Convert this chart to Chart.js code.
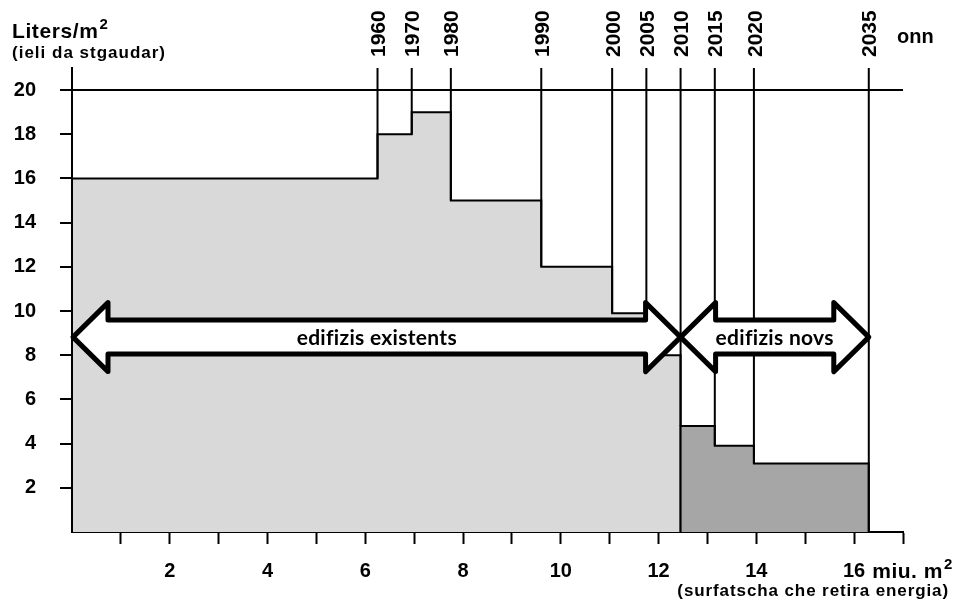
<!DOCTYPE html>
<html><head><meta charset="utf-8">
<script src="https://cdn.jsdelivr.net/npm/chart.js@4/dist/chart.umd.min.js"></script>
<style>html,body{margin:0;padding:0;background:#fff;overflow:hidden}</style>
</head><body>
<canvas id="c" width="956" height="601"></canvas>
<script>
// ---- data ----
const years = ['1960','1970','1980','1990','2000','2005','2010','2015','2020','2035'];
// cumulative heated floor area (miu. m2) reached at each year
const cumulativeArea = [6.25, 6.95, 7.75, 9.6, 11.05, 11.75, 12.45, 13.15, 13.95, 16.3];
// heating oil need (liters/m2) of the buildings of the period ending at each year
const litersPerM2 = [16, 18, 19, 15, 12, 9.9, 8, 4.8, 3.9, 3.1];
const existingPeriods = 7;          // periods up to 2010: edifizis existents
const yTickValues = [2,4,6,8,10,12,14,16,18,20];
const xTickValues = [1,2,3,4,5,6,7,8,9,10,11,12,13,14,15,16,17];
const xLabelledValues = [2,4,6,8,10,12,14,16];
const referenceLine = 20;
const arrowLabels = ['edifizis existents', 'edifizis novs'];

// ---- datasets built from the arrays ----
function stepArea(startX, from, to) {
  const pts = [{x: startX, y: 0}, {x: startX, y: litersPerM2[from]}];
  for (let i = from; i < to - 1; i++) pts.push({x: cumulativeArea[i], y: litersPerM2[i + 1]});
  pts.push({x: cumulativeArea[to - 1], y: 0});
  return pts;
}
const existingArea = stepArea(0, 0, existingPeriods);
const newArea = stepArea(cumulativeArea[existingPeriods - 1], existingPeriods, years.length);
const boundaryLines = [];
years.forEach((y, i) => {
  const next = i + 1 < litersPerM2.length ? litersPerM2[i + 1] : 0;
  boundaryLines.push({x: cumulativeArea[i], y: 21});
  boundaryLines.push({x: cumulativeArea[i], y: Math.min(litersPerM2[i], next)});
  boundaryLines.push({x: cumulativeArea[i], y: null});
});

const FONT = "'Liberation Sans', Arial, sans-serif";
Chart.defaults.font.family = FONT;
Chart.defaults.font.weight = 'bold';
Chart.defaults.color = '#000';

const textPlugin = {
  id: 'texts',
  afterDraw(chart) {
    const ctx = chart.ctx;
    ctx.save();
    ctx.fillStyle = '#000';
    ctx.textBaseline = 'alphabetic';
    ctx.textAlign = 'left';
    ctx.letterSpacing = '0.6px';
    ctx.font = 'bold 21px ' + FONT;
    ctx.fillText('Liters/m', 12, 38);
    let w = ctx.measureText('Liters/m').width;
    ctx.letterSpacing = '0px';
    ctx.font = 'bold 15px ' + FONT;
    ctx.fillText('2', 12 + w + 1, 29);
    ctx.letterSpacing = '1px';
    ctx.font = 'bold 17px ' + FONT;
    ctx.fillText('(ieli da stgaudar)', 12, 58);
    ctx.letterSpacing = '0px';
    ctx.font = 'bold 20px ' + FONT;
    ctx.fillText('onn', 897, 43);
    // unit after the last x label
    const xs = chart.scales.x;
    const px16 = xs.getPixelForValue(16);
    ctx.font = 'bold 20px ' + FONT;
    const w16 = ctx.measureText('16').width;
    const ux = px16 + w16 / 2 + 7;
    ctx.letterSpacing = '0.5px';
    ctx.font = 'bold 21px ' + FONT;
    ctx.fillText('miu. m', ux, 578);
    w = ctx.measureText('miu. m').width;
    ctx.letterSpacing = '0px';
    ctx.font = 'bold 15px ' + FONT;
    ctx.fillText('2', ux + w + 1, 569);
    ctx.letterSpacing = '0.9px';
    ctx.font = 'bold 17px ' + FONT;
    ctx.textAlign = 'right';
    ctx.fillText('(surfatscha che retira energia)', 949, 596);
    ctx.restore();
  }
};

function drawArrow(ctx, x1, x2, yc, label) {
  const hl = 35, hh = 34.5, sh = 17;
  ctx.beginPath();
  ctx.moveTo(x1, yc);
  ctx.lineTo(x1 + hl, yc - hh);
  ctx.lineTo(x1 + hl, yc - sh);
  ctx.lineTo(x2 - hl, yc - sh);
  ctx.lineTo(x2 - hl, yc - hh);
  ctx.lineTo(x2, yc);
  ctx.lineTo(x2 - hl, yc + hh);
  ctx.lineTo(x2 - hl, yc + sh);
  ctx.lineTo(x1 + hl, yc + sh);
  ctx.lineTo(x1 + hl, yc + hh);
  ctx.closePath();
  ctx.fillStyle = '#fff';
  ctx.fill();
  ctx.lineWidth = 5;
  ctx.lineJoin = 'round';
  ctx.strokeStyle = '#000';
  ctx.stroke();
  ctx.fillStyle = '#000';
  ctx.font = "bold 21px Lato, 'Open Sans', sans-serif";
  ctx.letterSpacing = '0.3px';
  ctx.textAlign = 'center';
  ctx.textBaseline = 'middle';
  ctx.fillText(label, (x1 + x2) / 2, yc + 1);
}

const arrowPlugin = {
  id: 'arrows',
  afterDatasetsDraw(chart) {
    const ctx = chart.ctx, xs = chart.scales.x, ys = chart.scales.y;
    const yc = ys.getPixelForValue(8.82);
    const a = xs.getPixelForValue(0);
    const b = xs.getPixelForValue(cumulativeArea[existingPeriods - 1]);
    const c = xs.getPixelForValue(cumulativeArea[years.length - 1]);
    ctx.save();
    drawArrow(ctx, a + 1, b, yc, arrowLabels[0]);
    drawArrow(ctx, b, c, yc, arrowLabels[1]);
    ctx.restore();
  }
};

new Chart(document.getElementById('c'), {
  type: 'line',
  data: {
    datasets: [
      { label: 'edifizis existents', data: existingArea, stepped: true, fill: 'origin',
        backgroundColor: '#d9d9d9', borderColor: '#000', borderWidth: 2, pointRadius: 0, order: 3 },
      { label: 'edifizis novs', data: newArea, stepped: true, fill: 'origin',
        backgroundColor: '#a6a6a6', borderColor: '#000', borderWidth: 2, pointRadius: 0, order: 2 },
      { label: 'onn', data: boundaryLines, spanGaps: false, fill: false,
        borderColor: '#000', borderWidth: 2, pointRadius: 0, order: 1 }
    ]
  },
  options: {
    responsive: false,
    animation: false,
    devicePixelRatio: 1,
    parsing: true,
    layout: { padding: { left: 0, right: 53, top: 0, bottom: 0 } },
    plugins: { legend: { display: false }, tooltip: { enabled: false } },
    elements: { line: { tension: 0, borderCapStyle: 'butt' } },
    scales: {
      x: {
        type: 'linear', position: 'bottom', min: 0, max: 17,
        afterBuildTicks: (axis) => { axis.ticks = xTickValues.map(v => ({value: v})); },
        afterFit: (axis) => { axis.height = 69; },
        ticks: {
          autoSkip: false, maxRotation: 0, padding: 15,
          font: { size: 20, weight: 'bold' },
          callback: (v) => xLabelledValues.includes(v) ? String(v) : ''
        },
        grid: { drawOnChartArea: false, drawTicks: true, tickLength: 12, tickColor: '#000', tickWidth: 2 },
        border: { display: true, color: '#000', width: 2 }
      },
      x2: {
        type: 'linear', position: 'top', min: 0, max: 17,
        afterBuildTicks: (axis) => { axis.ticks = cumulativeArea.map(v => ({value: v})); },
        afterFit: (axis) => { axis.height = 68; },
        ticks: {
          autoSkip: false, minRotation: 90, maxRotation: 90, padding: 11, labelOffset: 27,
          font: { size: 21, weight: 'bold' },
          callback: (v, i) => years[i]
        },
        grid: { display: false, drawTicks: false },
        border: { display: false }
      },
      y: {
        type: 'linear', min: 0, max: 21,
        afterBuildTicks: (axis) => { axis.ticks = yTickValues.map(v => ({value: v})); },
        afterFit: (axis) => { axis.width = 72; },
        ticks: { padding: 24, font: { size: 20, weight: 'bold' } },
        grid: {
          drawOnChartArea: true, drawTicks: true, tickLength: 12, tickColor: '#000', tickWidth: 2,
          color: (c) => c.tick && c.tick.value === referenceLine ? '#000' : 'rgba(0,0,0,0)', lineWidth: 2
        },
        border: { display: true, color: '#000', width: 2 }
      }
    }
  },
  plugins: [arrowPlugin, textPlugin]
});
</script>
</body></html>
